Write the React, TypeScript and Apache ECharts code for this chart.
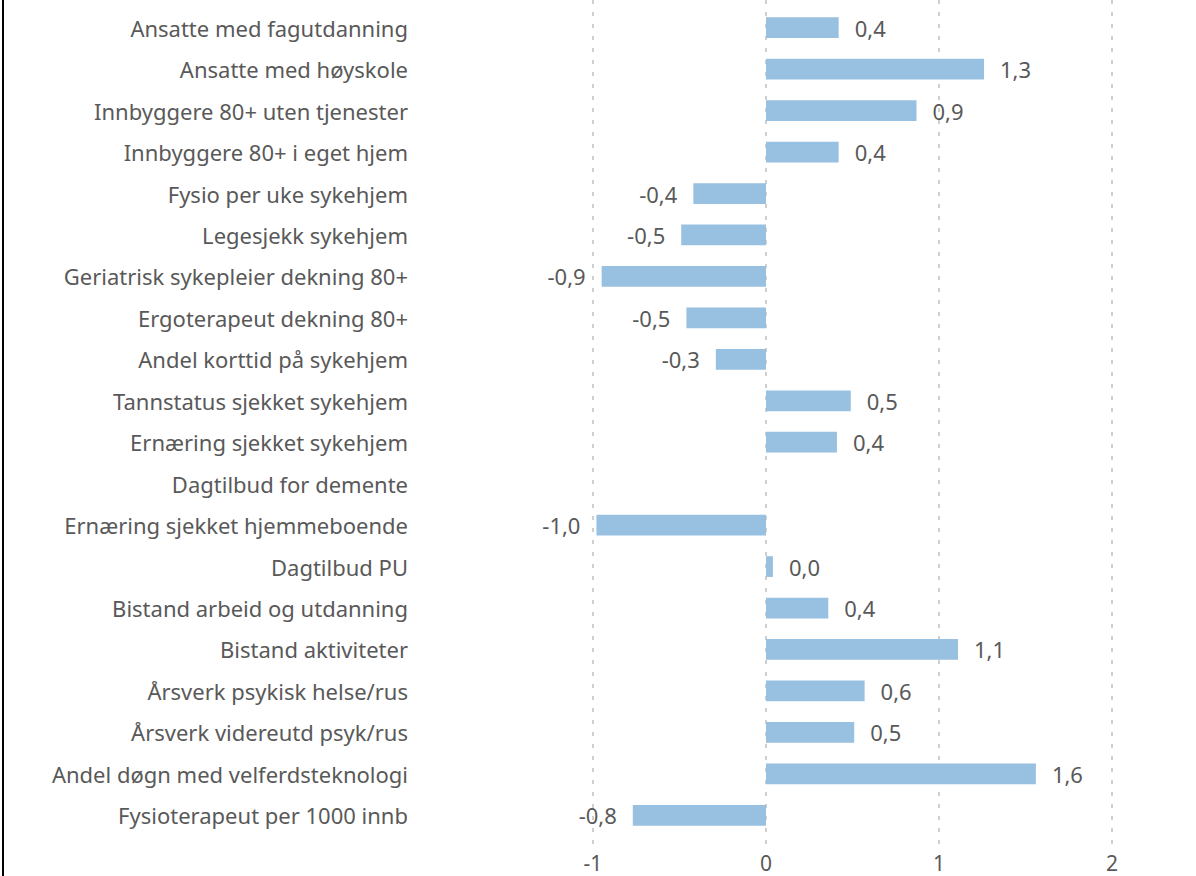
import React, { useEffect, useRef } from "react";
import * as echarts from "echarts";

const categories = [
  "Ansatte med fagutdanning",
  "Ansatte med høyskole",
  "Innbyggere 80+ uten tjenester",
  "Innbyggere 80+ i eget hjem",
  "Fysio per uke sykehjem",
  "Legesjekk sykehjem",
  "Geriatrisk sykepleier dekning 80+",
  "Ergoterapeut dekning 80+",
  "Andel korttid på sykehjem",
  "Tannstatus sjekket sykehjem",
  "Ernæring sjekket sykehjem",
  "Dagtilbud for demente",
  "Ernæring sjekket hjemmeboende",
  "Dagtilbud PU",
  "Bistand arbeid og utdanning",
  "Bistand aktiviteter",
  "Årsverk psykisk helse/rus",
  "Årsverk videreutd psyk/rus",
  "Andel døgn med velferdsteknologi",
  "Fysioterapeut per 1000 innb",
];

const values: (number | null)[] = [
  0.42, 1.26, 0.87, 0.42, -0.42, -0.49, -0.95, -0.46, -0.29, 0.49, 0.41, null,
  -0.98, 0.04, 0.36, 1.11, 0.57, 0.51, 1.56, -0.77,
];

const xTicks = { min: -1, max: 2, interval: 1 };

const fmt = (v: number) => v.toFixed(1).replace(".", ",");

export default function App() {
  const ref = useRef<HTMLDivElement>(null);
  useEffect(() => {
    document.body.style.margin = "0";
    const chart = echarts.init(ref.current!, null, { renderer: "svg" });
    const font = "'Segoe UI', 'Noto Sans', sans-serif";
    const textColor = "#595959";
    chart.setOption({
      animation: false,
      textStyle: { fontFamily: font },
      grid: [
        { left: 593, right: 84, top: 7, height: 829 },
        { left: 593, right: 84, top: 0, height: 846 },
      ],
      xAxis: [
        {
          type: "value",
          gridIndex: 0,
          min: xTicks.min,
          max: xTicks.max,
          interval: xTicks.interval,
          axisLine: { show: false },
          axisTick: { show: false },
          splitLine: { show: false },
          axisLabel: { color: textColor, fontSize: 21, margin: 16, fontFamily: font },
        },
        {
          type: "value",
          gridIndex: 1,
          min: xTicks.min,
          max: xTicks.max,
          interval: xTicks.interval,
          axisLine: { show: false },
          axisTick: { show: false },
          axisLabel: { show: false },
          splitLine: {
            show: true,
            lineStyle: { color: "#cfcfcf", width: 2, type: [4, 8] },
          },
        },
      ],
      yAxis: [
        {
          type: "category",
          gridIndex: 0,
          data: categories,
          inverse: true,
          axisLine: { show: false },
          axisTick: { show: false },
          splitLine: { show: false },
          axisLabel: { color: textColor, fontSize: 22, margin: 185, fontFamily: font },
        },
        {
          type: "value",
          gridIndex: 1,
          show: false,
        },
      ],
      series: [
        {
          type: "bar",
          xAxisIndex: 0,
          yAxisIndex: 0,
          barWidth: "50%",
          itemStyle: { color: "#97C0E1" },
          data: values.map((v) =>
            v === null
              ? null
              : {
                  value: v,
                  label: {
                    show: true,
                    position: v < 0 ? "left" : "right",
                    distance: 16,
                    color: textColor,
                    fontSize: 22,
                    fontFamily: font,
                    formatter: () => fmt(v),
                  },
                }
          ),
        },
      ],
      graphic: [
        {
          type: "line",
          shape: { x1: 3, y1: 0, x2: 3, y2: 876 },
          style: { stroke: "#000", lineWidth: 2 },
        },
      ],
    });
    return () => chart.dispose();
  }, []);
  return <div ref={ref} style={{ width: 1196, height: 876 }} />;
}
